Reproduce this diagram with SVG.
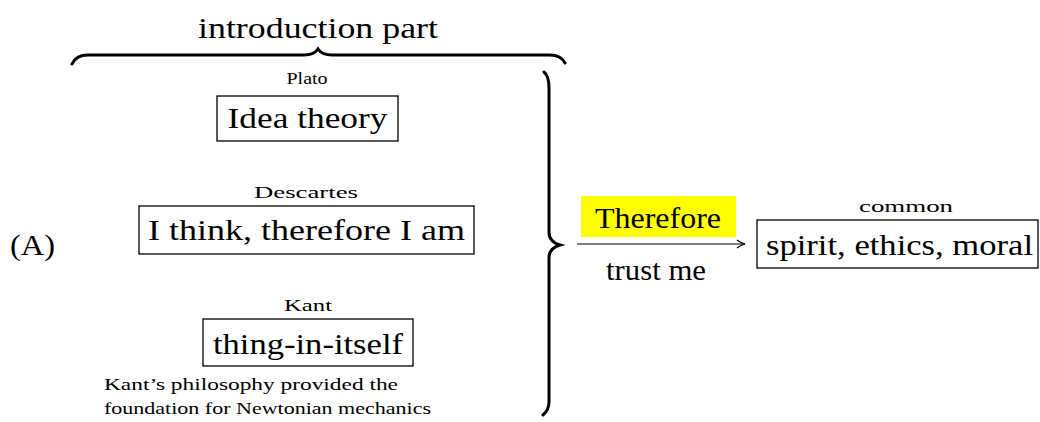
<svg xmlns="http://www.w3.org/2000/svg" width="1040" height="422" viewBox="0 0 1040 422">
<style>
text{font-family:'Liberation Serif','DejaVu Serif','Times New Roman',serif;fill:#000}
.big{font-size:29px}
.small{font-size:17px}
.box{fill:none;stroke:#000;stroke-width:1.3}
.brace{fill:none;stroke:#000;stroke-width:3;stroke-linecap:round}
</style>
<defs>
<marker id="arr" viewBox="0 0 10 10" refX="9" refY="5" markerWidth="10" markerHeight="10" markerUnits="userSpaceOnUse" orient="auto">
<path d="M1,1 Q5,4 9,5 Q5,6 1,9" fill="none" stroke="#000" stroke-width="1.2"/>
</marker>
</defs>
<rect width="1040" height="422" fill="#fff"/>
<g id="top-brace">
<path class="brace" d="M72,64 Q76,55 88,55 L304,55 Q314,55 318,49 Q322,55 332,55 L550,55 Q561,55 565,63"/>
<text class="big" font-family="Liberation Serif, serif" x="318" y="38" text-anchor="middle" textLength="240" lengthAdjust="spacingAndGlyphs">introduction part</text>
</g>
<g id="label-A"><text class="big" font-family="Liberation Serif, serif" x="10" y="255" textLength="45" lengthAdjust="spacingAndGlyphs">(A)</text></g>
<g id="plato">
<text class="small" font-family="Liberation Serif, serif" x="307" y="84" text-anchor="middle" textLength="41" lengthAdjust="spacingAndGlyphs">Plato</text>
<rect class="box" x="217" y="96" width="181" height="45"/>
<text class="big" font-family="Liberation Serif, serif" x="307.5" y="128" text-anchor="middle" textLength="160" lengthAdjust="spacingAndGlyphs">Idea theory</text>
</g>
<g id="descartes">
<text class="small" font-family="Liberation Serif, serif" x="306" y="198" text-anchor="middle" textLength="104" lengthAdjust="spacingAndGlyphs">Descartes</text>
<rect class="box" x="139" y="206" width="335" height="48"/>
<text class="big" font-family="Liberation Serif, serif" x="306.5" y="240" text-anchor="middle" textLength="317" lengthAdjust="spacingAndGlyphs">I think, therefore I am</text>
</g>
<g id="kant">
<text class="small" font-family="Liberation Serif, serif" x="308" y="311" text-anchor="middle" textLength="48" lengthAdjust="spacingAndGlyphs">Kant</text>
<rect class="box" x="203" y="319" width="210" height="47"/>
<text class="big" font-family="Liberation Serif, serif" x="308" y="354" text-anchor="middle" textLength="190" lengthAdjust="spacingAndGlyphs">thing-in-itself</text>
<text class="small" font-family="Liberation Serif, serif" x="104" y="390" textLength="294" lengthAdjust="spacingAndGlyphs">Kant’s philosophy provided the</text>
<text class="small" font-family="Liberation Serif, serif" x="104" y="414" textLength="327" lengthAdjust="spacingAndGlyphs">foundation for Newtonian mechanics</text>
</g>
<g id="right-brace">
<path class="brace" d="M544,72 Q549,76 549,88 L549,232 Q549,242 560,245 Q549,248 549,258 L549,402 Q549,410 543,415"/>
</g>
<g id="connectors">
<rect x="581" y="196" width="155" height="41" fill="#ffff00"/>
<text class="big" font-family="Liberation Serif, serif" x="658" y="228" text-anchor="middle" textLength="126" lengthAdjust="spacingAndGlyphs">Therefore</text>
<line x1="577" y1="244" x2="745" y2="244" stroke="#000" stroke-width="1.2" marker-end="url(#arr)"/>
<text class="big" font-family="Liberation Serif, serif" x="656" y="280" text-anchor="middle" textLength="100" lengthAdjust="spacingAndGlyphs">trust me</text>
</g>
<g id="common">
<text class="small" font-family="Liberation Serif, serif" x="906" y="212" text-anchor="middle" textLength="94" lengthAdjust="spacingAndGlyphs">common</text>
<rect class="box" x="757" y="220" width="281" height="48"/>
<text class="big" font-family="Liberation Serif, serif" x="899.5" y="255" text-anchor="middle" textLength="267" lengthAdjust="spacingAndGlyphs">spirit, ethics, moral</text>
</g>
</svg>
